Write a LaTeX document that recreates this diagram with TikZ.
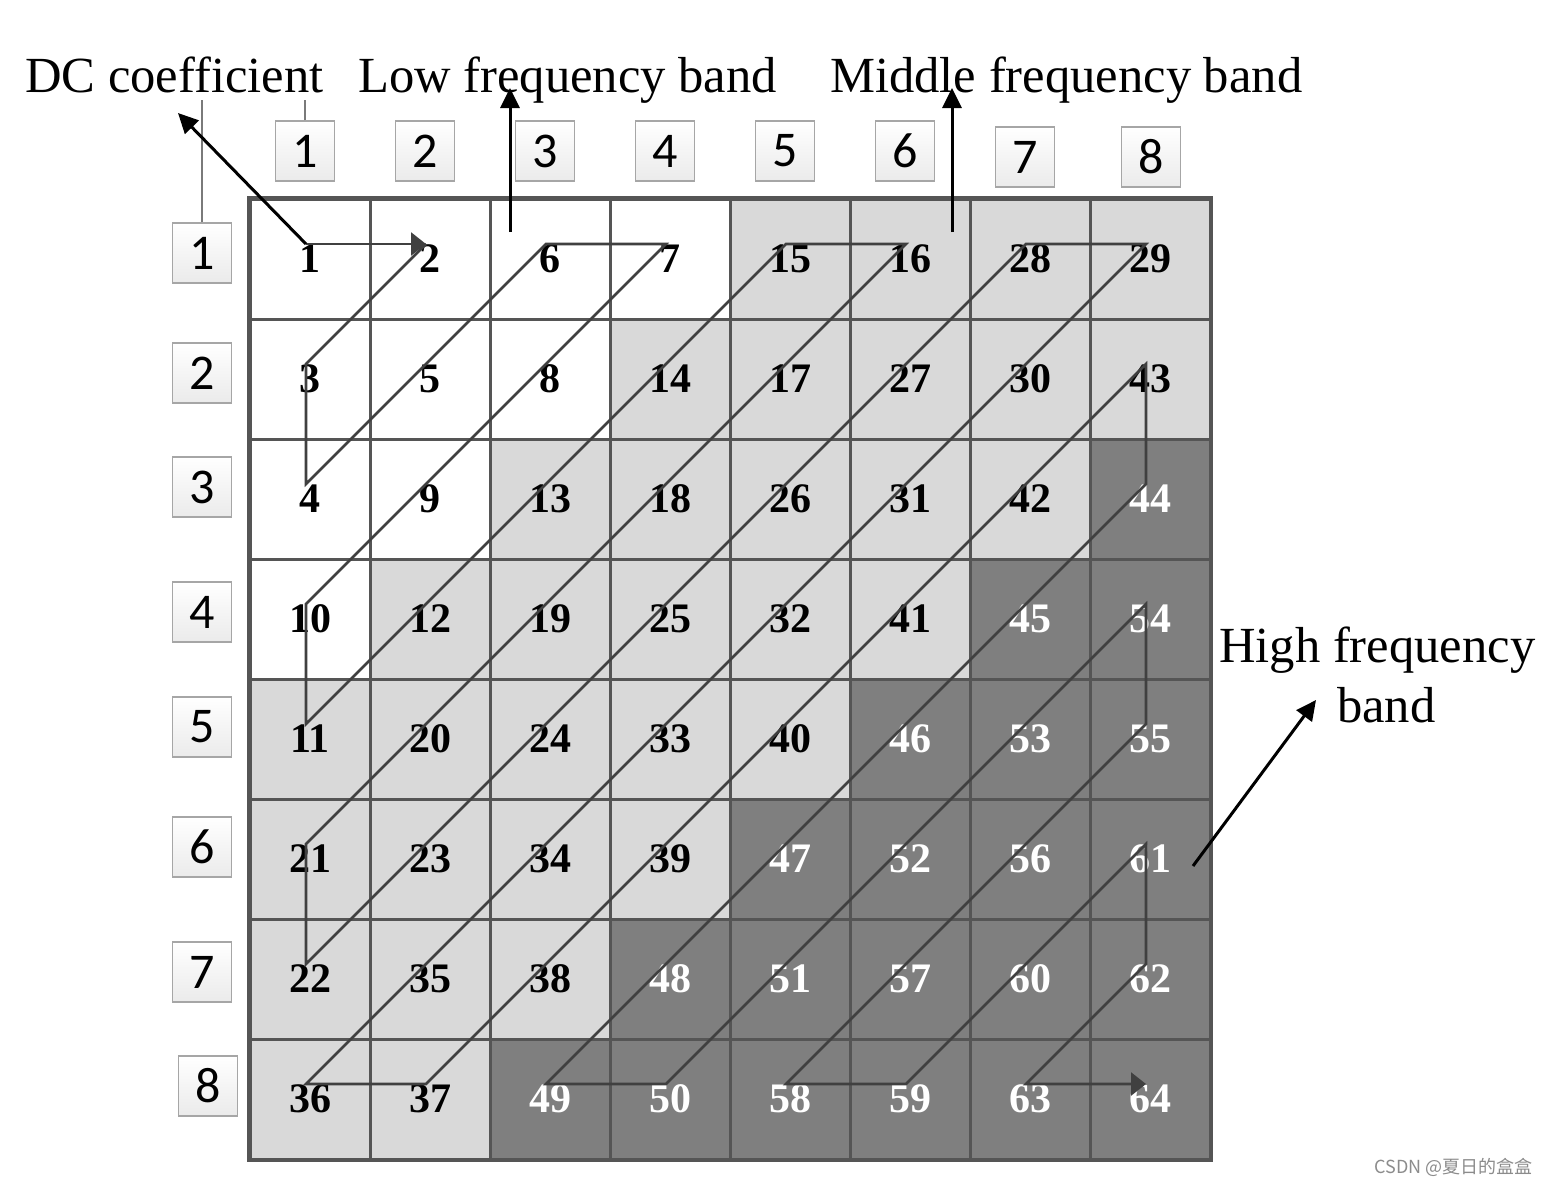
\documentclass[tikz,border=0pt]{standalone}
\usepackage{fontspec}
\setmainfont{Liberation Serif}
\newfontfamily\hdrfont{Carlito}
\newfontfamily\cjkfont{Noto Sans CJK SC}
\usetikzlibrary{arrows.meta,calc}
\definecolor{lowc}{HTML}{FFFFFF}
\definecolor{midc}{HTML}{D9D9D9}
\definecolor{highc}{HTML}{7F7F7F}
\definecolor{gridc}{HTML}{555555}
\definecolor{zigc}{HTML}{404040}
\definecolor{leadc}{HTML}{7A7A7A}
\begin{document}
\begin{tikzpicture}[x=1pt,y=-1pt,
  cellbox/.style={draw=gridc, line width=3pt, minimum size=120pt, inner sep=0pt,
    font=\fontsize{42}{42}\selectfont\bfseries},
  lowcell/.style={cellbox, fill=lowc, text=black},
  midcell/.style={cellbox, fill=midc, text=black},
  highcell/.style={cellbox, fill=highc, text=white},
  hbox/.style={draw=gray!70, line width=1.2pt, top color=white, bottom color=gray!16,
    minimum width=59pt, minimum height=60pt, inner sep=0pt,
    font=\hdrfont\fontsize{50}{50}\selectfont},
  lbl/.style={inner sep=0pt, font=\fontsize{50.6}{50.6}\selectfont},
  zig/.style={draw=zigc, line width=2.6pt},
  zigarrow/.style={zig, -{Triangle[length=15pt,width=23pt]}},
  bigarrow/.style={draw=black, line width=3pt, -{Triangle[length=20pt,width=19pt]}},
  leader/.style={draw=leadc, line width=1.5pt}
]
\useasboundingbox[fill=white] (0,0) rectangle (1550,1186);

% cells
\foreach \rowlist [count=\r] in {
  {1,2,6,7,15,16,28,29},
  {3,5,8,14,17,27,30,43},
  {4,9,13,18,26,31,42,44},
  {10,12,19,25,32,41,45,54},
  {11,20,24,33,40,46,53,55},
  {21,23,34,39,47,52,56,61},
  {22,35,38,48,51,57,60,62},
  {36,37,49,50,58,59,63,64}}{
  \foreach \idx [count=\c] in \rowlist {
    \ifnum\idx<11 \def\sty{lowcell}\else\ifnum\idx<44 \def\sty{midcell}\else\def\sty{highcell}\fi\fi
    \node[\sty] (n\idx) at ({310+120*(\c-1)},{259+120*(\r-1)}) {\idx};
    \coordinate (z\idx) at ($(n\idx.center)+(-4,-15)$);
  }
}
\draw[gridc, line width=3pt] (n1.north west) rectangle (n64.south east);

% zigzag
\draw[zigarrow] (z1) -- (z2);
\draw[zigarrow] (z2) \foreach \k in {3,...,64}{ -- (z\k) };

% column headers
\foreach \c/\x/\y in {1/305/151,2/425/151,3/545/151,4/665/151,5/785/151,6/905/151,7/1025/157,8/1151/157}{
  \node[hbox] (col\c) at (\x,\y) {\c};
}
% row headers
\foreach \r/\x/\y in {1/202/253,2/202/373,3/202/487,4/202/612,5/202/727,6/202/847,7/202/972,8/208/1086}{
  \node[hbox] (row\r) at (\x,\y) {\r};
}

% labels
\node[lbl, anchor=base west] (dc) at (25,92) {DC coefficient};
\node[lbl, anchor=base west] (low) at (358,92) {Low frequency band};
\node[lbl, anchor=base west] (mid) at (830,92) {Middle frequency band};
\node[lbl, anchor=base west] (high1) at (1219,662) {High frequency};
\node[lbl, anchor=base west] (high2) at (1337,722) {band};

% leader lines
\coordinate (rowlead) at (202,100);
\coordinate (collead) at (305,100);
\draw[leader] (row1.north) -- (rowlead);
\draw[leader] (col1.north) -- (collead);

% band arrows
\coordinate (dctip) at (178,113);
\coordinate (lowstart) at (510,232);
\coordinate (lowtip) at (510,88);
\coordinate (midstart) at (952,232);
\coordinate (midtip) at (952,88);
\coordinate (highstart) at (1193,866);
\coordinate (hightip) at (1316,700);
\draw[bigarrow] (z1) -- (dctip);
\draw[bigarrow] (lowstart) -- (lowtip);
\draw[bigarrow] (midstart) -- (midtip);
\draw[bigarrow] (highstart) -- (hightip);

% watermark
\node[anchor=base east, inner sep=0pt, text=gray!90, font=\cjkfont\fontsize{18}{18}\selectfont] (wm) at (1533,1173) {CSDN @夏日的盒盒};
\end{tikzpicture}
\end{document}
